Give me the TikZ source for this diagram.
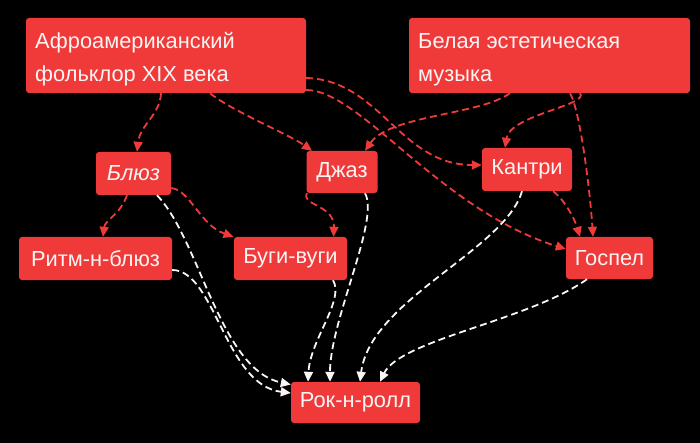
\documentclass[tikz,border=0pt]{standalone}
\usepackage{fontspec}
\setmainfont{Liberation Sans}
\usetikzlibrary{arrows.meta}
\definecolor{boxred}{RGB}{240,58,58}
\definecolor{txtw}{RGB}{250,244,244}
\begin{document}
\begin{tikzpicture}[x=1pt,y=-1pt,
  box/.style={fill=boxred, rounded corners=3pt, text=txtw, inner sep=0pt,
    font=\fontsize{21.8}{33}\selectfont, anchor=center},
  redline/.style={draw=boxred, line width=1.8pt, dash pattern=on 7pt off 4pt,
    -{Triangle[length=10pt,width=9pt]}},
  whiteline/.style={draw=txtw, line width=1.8pt, dash pattern=on 7pt off 4pt,
    -{Triangle[length=10pt,width=9pt]}}]
\fill[black] (0,0) rectangle (700,443);
\useasboundingbox (0,0) rectangle (700,443);

\node[box, minimum width=280pt, minimum height=75pt] (afro) at (166,55.5) {};
\node[anchor=west, inner sep=0pt, text=txtw, align=left, font=\fontsize{21.8}{33}\selectfont] (afrot) at (35,59.5) {Афроамериканский\\фольклор XIX века};
\node[box, minimum width=281pt, minimum height=75pt] (white) at (549.5,55.5) {};
\node[anchor=west, inner sep=0pt, text=txtw, align=left, font=\fontsize{21.8}{33}\selectfont] (whitet) at (418,59.5) {Белая эстетическая\\музыка};
\node[box, minimum width=75pt, minimum height=43pt, font=\fontsize{21.8}{24}\selectfont\itshape] (blues) at (133.5,173.5) {Блюз};
\node[box, minimum width=71pt, minimum height=42pt] (jazz) at (342,172) {Джаз};
\node[box, minimum width=90pt, minimum height=43pt] (country) at (527,169.5) {Кантри};
\node[box, minimum width=153pt, minimum height=43pt] (rnb) at (95.5,258.5) {Ритм-н-блюз};
\node[box, minimum width=113pt, minimum height=43pt] (boogie) at (290.5,258.5) {Буги-вуги};
\node[box, minimum width=87pt, minimum height=42pt] (gospel) at (609.5,258) {Госпел};
\node[box, minimum width=129pt, minimum height=41pt] (rock) at (355.5,402.5) {Рок-н-ролл};

% red connectors
\draw[redline] ([xshift=-5pt]afro.south) .. controls (160,115) and (140,125) .. ([xshift=3.5pt]blues.north);
\draw[redline] ([xshift=44pt]afro.south) .. controls (230,110) and (290,135) .. ([xshift=-30pt]jazz.north);
\draw[redline] ([yshift=-22.5pt]afro.east) .. controls (380,80) and (400,165) .. ([yshift=4.5pt]country.west);
\draw[redline] ([yshift=-34.5pt]afro.east) .. controls (360,90) and (440,210) .. ([yshift=9pt]gospel.west);
\draw[redline] ([xshift=-39.5pt]white.south) .. controls (480,115) and (390,115) .. ([xshift=23pt]jazz.north);
\draw[redline] ([xshift=30.5pt]white.south) .. controls (590,105) and (510,115) .. ([xshift=-22pt]country.north);
\draw[redline] ([xshift=20.5pt]white.south) .. controls (580,110) and (590,190) .. ([xshift=-16.5pt]gospel.north);
\draw[redline] ([xshift=26pt]country.south) .. controls (565,200) and (575,220) .. ([xshift=-29.5pt]gospel.north);
\draw[redline] ([xshift=-6.5pt]blues.south) .. controls (120,215) and (105,220) .. ([xshift=7.5pt]rnb.north);
\draw[redline] ([yshift=-14.5pt]blues.east) .. controls (190,190) and (200,225) .. ([xshift=-57pt]boogie.north);
\draw[redline] ([xshift=-35pt]jazz.south) .. controls (300,205) and (335,205) .. ([xshift=43pt]boogie.north);

% white connectors
\draw[whiteline] ([xshift=23.5pt]blues.south) .. controls (200,240) and (220,370) .. ([yshift=18pt]rock.west);
\draw[whiteline] ([yshift=-11.5pt]rnb.east) .. controls (215,270) and (225,385) .. ([yshift=9.5pt]rock.west);
\draw[whiteline] ([xshift=42.5pt]boogie.south) .. controls (345,300) and (310,340) .. ([xshift=-47.5pt]rock.north);
\draw[whiteline] ([xshift=23pt]jazz.south) .. controls (380,220) and (330,320) .. ([xshift=-25.5pt]rock.north);
\draw[whiteline] ([xshift=-5pt]country.south) .. controls (505,250) and (370,300) .. ([xshift=4.5pt]rock.north);
\draw[whiteline] ([xshift=-22.5pt]gospel.south) .. controls (530,320) and (400,340) .. ([xshift=24.5pt]rock.north);
\end{tikzpicture}
\end{document}
